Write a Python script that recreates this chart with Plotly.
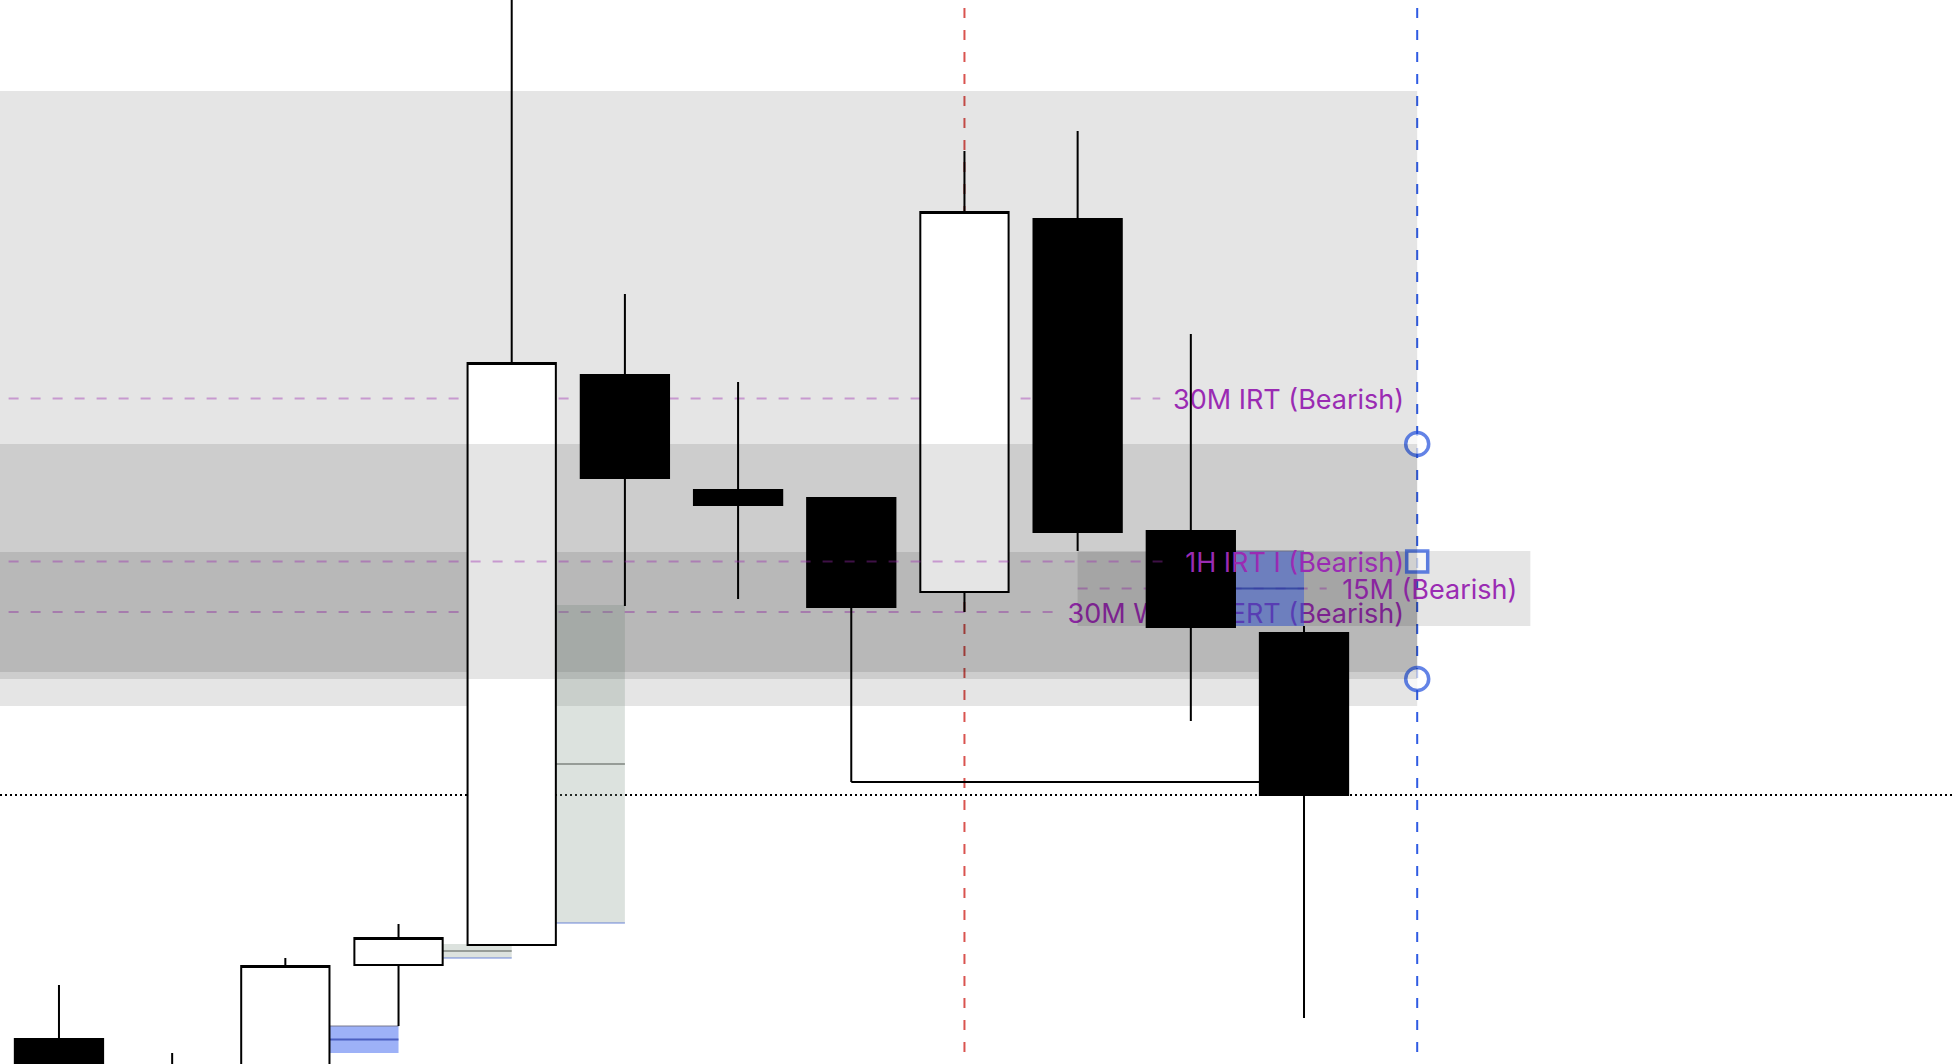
import plotly.graph_objects as go

# ---------------- data ----------------
candle_index = list(range(12))
opens  = [18025, 17984, 17944, 18099, 18119, 18689, 18574, 18566, 18472, 18845, 18533, 18431]
highs  = [18079, 18011, 18106, 18140, 19104, 18770, 18682, 18566, 18913, 18933, 18730, 18438]
lows   = [17934, 17939, 17934, 18038, 18119, 18458, 18465, 18282, 18452, 18513, 18343, 18046]
closes = [17964, 17954, 18098, 18126, 18701, 18586, 18559, 18457, 18852, 18532, 18437, 18269]

zone_labels   = ["30M IRT (Bearish)", "1H IRT I (Bearish)", "30M WICKS ERT (Bearish)", "15M (Bearish)"]
zone_top      = [18973, 18620, 18512, 18513]
zone_bottom   = [18358, 18385, 18392, 18438]
zone_start    = [-2, -2, -2, 9]
zone_end      = [12, 12, 12, 13]
zone_line_end = [9.73, 9.75, 8.82, 11.2]
zone_selected = [False, True, False, False]

fvg_candle = [2, 3, 4, 10]
fvg_top    = [18038, 18120, 18459, 18513]
fvg_bottom = [18011, 18106, 18141, 18438]
fvg_kind   = ["blue", "gray", "gray", "blue"]

sweep_from, sweep_to = 7, 11
event_index = 8
now_index = 12

# ---------------- style ----------------
BOXGAP = 0.22
half_body = (1 - BOXGAP) / 2
PURPLE = "#9a2bb3"
PURPLE_LINE = "rgba(156,39,176,0.4)"
ZONE_FILL = "rgba(0,0,0,0.1)"
BLUE = "#2f5be3"
HANDLE_BLUE = "#2250dc"
FONT = "Inter"
FSIZE = 27

fig = go.Figure()
fig.add_trace(go.Candlestick(
    x=candle_index, open=opens, high=highs, low=lows, close=closes,
    increasing=dict(fillcolor="white", line=dict(color="black", width=2)),
    decreasing=dict(fillcolor="black", line=dict(color="black", width=2)),
    whiskerwidth=0, hoverinfo="skip", showlegend=False,
))

shapes = []
# zones
for lab, t, b, s, e, le, sel in zip(zone_labels, zone_top, zone_bottom, zone_start,
                                     zone_end, zone_line_end, zone_selected):
    layer = "above" if sel else "below"
    shapes.append(dict(type="rect", xref="x", yref="y", x0=s, x1=e, y0=b, y1=t,
                       fillcolor=ZONE_FILL, line=dict(width=0), layer=layer,
                       label=dict(text=lab, textposition="middle right", padding=10,
                                  font=dict(color=PURPLE, size=FSIZE, family=FONT))))
    mid = (t + b) / 2
    shapes.append(dict(type="line", xref="x", yref="y", x0=s, x1=le, y0=mid, y1=mid,
                       line=dict(color=PURPLE_LINE, width=2, dash="10px,12px"), layer=layer))

# fair value gaps
for c, t, b, k in zip(fvg_candle, fvg_top, fvg_bottom, fvg_kind):
    x0 = c + half_body
    x1 = c + 1
    mid = (t + b) / 2
    if k == "blue":
        fill = "rgba(60,100,240,0.5)"
        midc = "rgba(40,60,170,0.7)"
        edge_y, edge_c = t, "rgba(110,110,130,0.45)"
    else:
        fill = "rgba(130,150,135,0.28)"
        midc = "rgb(150,156,151)"
        edge_y, edge_c = b, "rgba(90,120,210,0.45)"
    shapes.append(dict(type="rect", xref="x", yref="y", x0=x0, x1=x1, y0=b, y1=t,
                       fillcolor=fill, line=dict(width=0), layer="below"))
    shapes.append(dict(type="line", xref="x", yref="y", x0=x0, x1=x1, y0=mid, y1=mid,
                       line=dict(color=midc, width=2), layer="below"))
    shapes.append(dict(type="line", xref="x", yref="y", x0=x0, x1=x1, y0=edge_y, y1=edge_y,
                       line=dict(color=edge_c, width=2), layer="below"))

# sweep line from candle low
shapes.append(dict(type="line", xref="x", yref="y", x0=sweep_from, x1=sweep_to,
                   y0=lows[sweep_from], y1=lows[sweep_from],
                   line=dict(color="black", width=2), layer="below"))
# current price dotted line
shapes.append(dict(type="line", xref="paper", yref="y", x0=0, x1=1,
                   y0=closes[-1], y1=closes[-1],
                   line=dict(color="black", width=2, dash="2px,3px"), layer="below"))
# vertical markers
shapes.append(dict(type="line", xref="x", yref="paper", x0=event_index, x1=event_index,
                   y0=0.9925, y1=0.011, line=dict(color="#d9534f", width=2, dash="10px,12px"),
                   layer="below"))
shapes.append(dict(type="line", xref="x", yref="paper", x0=now_index, x1=now_index,
                   y0=0.9925, y1=0.011, line=dict(color=BLUE, width=2, dash="10px,12px"),
                   layer="below"))

# selection handles on the selected zone
sel_i = zone_selected.index(True)
st, sb = zone_top[sel_i], zone_bottom[sel_i]
fig.add_trace(go.Scatter(
    x=[zone_end[sel_i]] * 3, y=[st, (st + sb) / 2, sb], mode="markers",
    marker=dict(symbol=["circle", "square", "circle"], size=[23, 21, 23], color="white",
                line=dict(color=HANDLE_BLUE, width=3.5)),
    hoverinfo="skip", showlegend=False,
))

fig.update_layout(
    width=1952, height=1064,
    margin=dict(l=0, r=0, t=0, b=0),
    paper_bgcolor="white", plot_bgcolor="white",
    boxgap=BOXGAP, boxgroupgap=0,
    shapes=shapes,
    xaxis=dict(range=[-0.521, 16.725], visible=False, rangeslider=dict(visible=False),
               showgrid=False, zeroline=False, fixedrange=True),
    yaxis=dict(range=[18000, 19064], visible=False, showgrid=False, zeroline=False,
               fixedrange=True),
    showlegend=False,
)

fig.write_html("out.html", config={"displayModeBar": False},
               post_script="document.body.style.margin='0';document.body.style.overflow='hidden';")
